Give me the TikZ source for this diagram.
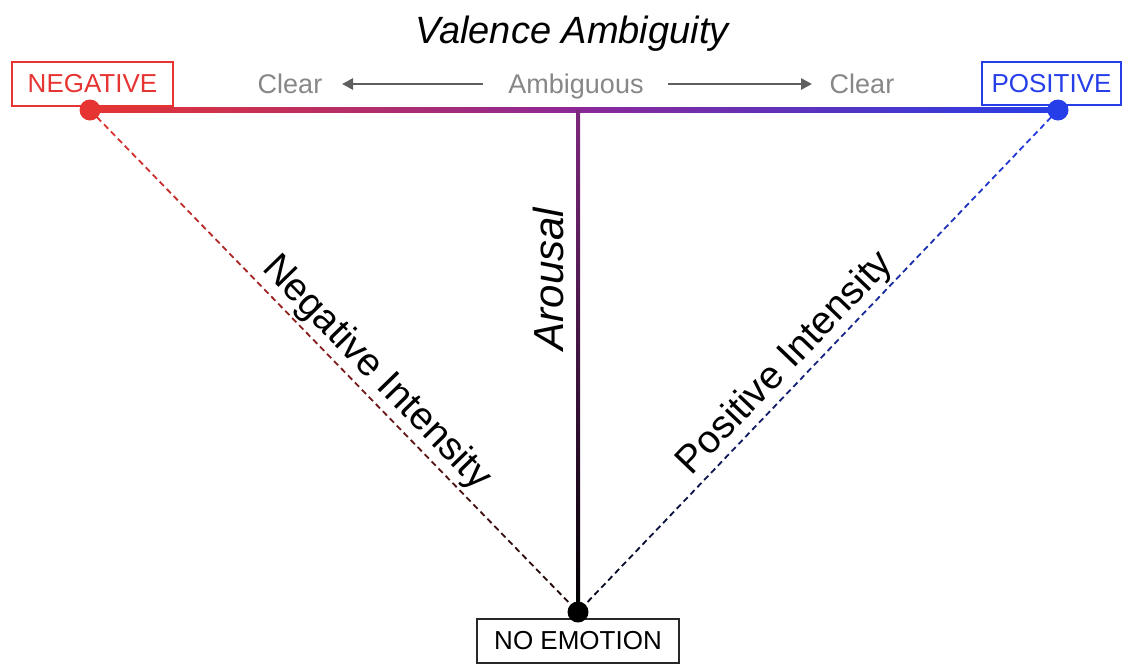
\documentclass[tikz,border=0pt]{standalone}
\usepackage{fontspec}
\setmainfont{Liberation Sans}
\usetikzlibrary{calc,arrows.meta}
\definecolor{negred}{RGB}{230,52,50}
\definecolor{posblue}{RGB}{38,62,232}
\definecolor{midpurple}{RGB}{140,40,150}
\definecolor{toppurple}{RGB}{125,40,125}
\definecolor{txtgray}{RGB}{135,135,135}
\definecolor{arrgray}{RGB}{95,95,95}
\definecolor{boxgray}{RGB}{40,40,40}
\tikzset{
  labelbox/.style={draw, line width=0.8pt, inner sep=0pt, font=\fontsize{13}{15}\selectfont},
  dot/.style={circle, inner sep=0pt, minimum size=10.5pt},
  graytxt/.style={text=txtgray, font=\fontsize{13.5}{16}\selectfont, anchor=base},
  grayarrow/.style={draw=arrgray, line width=1.3pt, -{Triangle[length=5.5pt,width=5.5pt]}},
  dashseg/.style={line width=0.9pt},
  slopelabel/.style={sloped, above, inner sep=1.5pt, font=\fontsize{19.5}{22}\selectfont},
}
\begin{document}
\begin{tikzpicture}[x=0.5pt,y=-0.5pt]
\useasboundingbox (0,0) rectangle (1135,666);
% boxes
\node[labelbox, draw=negred, text=negred, minimum width=80.5pt, minimum height=22pt] (negbox) at (92.5,84) {NEGATIVE};
\node[labelbox, draw=posblue, text=posblue, minimum width=69.5pt, minimum height=21.5pt] (posbox) at (1051.5,83.5) {POSITIVE};
\node[labelbox, draw=boxgray, text=black, minimum width=101pt, minimum height=22pt] (nonebox) at (578,641) {NO EMOTION};
% dot anchors
\coordinate (negdot) at (90,110);
\coordinate (posdot) at (1058,110);
\coordinate (nodot) at (578,612);
% title and gray labels
\node[anchor=base, font=\fontsize{19}{22}\selectfont\itshape] (title) at (572,43) {Valence Ambiguity};
\node[graytxt] (clearl) at (290,93) {Clear};
\node[graytxt] (ambig) at (576,93) {Ambiguous};
\node[graytxt] (clearr) at (862,93) {Clear};
\coordinate (arrlstart) at (483,84);
\coordinate (arrlend) at (342,84);
\coordinate (arrrstart) at (668,84);
\coordinate (arrrend) at (812,84);
\draw[grayarrow] (arrlstart) -- (arrlend);
\draw[grayarrow] (arrrstart) -- (arrrend);
% dashed gradient lines
\foreach \i in {0,...,69}{
  \pgfmathsetmacro\ta{\i/70}
  \pgfmathsetmacro\tb{(\i+0.6)/70}
  \pgfmathtruncatemacro\p{100-90*\ta}
  \draw[dashseg, draw=negred!\p!black] ($(negdot)!\ta!(nodot)$) -- ($(negdot)!\tb!(nodot)$);
  \draw[dashseg, draw=posblue!\p!black] ($(posdot)!\ta!(nodot)$) -- ($(posdot)!\tb!(nodot)$);
}
% horizontal valence bar
\shade[left color=negred, right color=posblue, middle color=midpurple] ($(negdot)+(0,-2.5)$) rectangle ($(posdot)+(0,2.5)$);
% vertical arousal bar
\shade[top color=toppurple, bottom color=black] ($(578,110)+(-2,0)$) rectangle ($(nodot)+(2,0)$);
% dots
\node[dot, fill=negred] (negd) at (negdot) {};
\node[dot, fill=posblue] (posd) at (posdot) {};
\node[dot, fill=black] (nod) at (nodot) {};
% labels
\path (negdot) -- (nodot) node[slopelabel, pos=0.555] (neglab) {Negative Intensity};
\path (nodot) -- (posdot) node[slopelabel, pos=0.465] (poslab) {Positive Intensity};
\node[rotate=90, anchor=base, font=\fontsize{21}{24}\selectfont\itshape] (arousal) at (563,279) {Arousal};
\end{tikzpicture}
\end{document}
